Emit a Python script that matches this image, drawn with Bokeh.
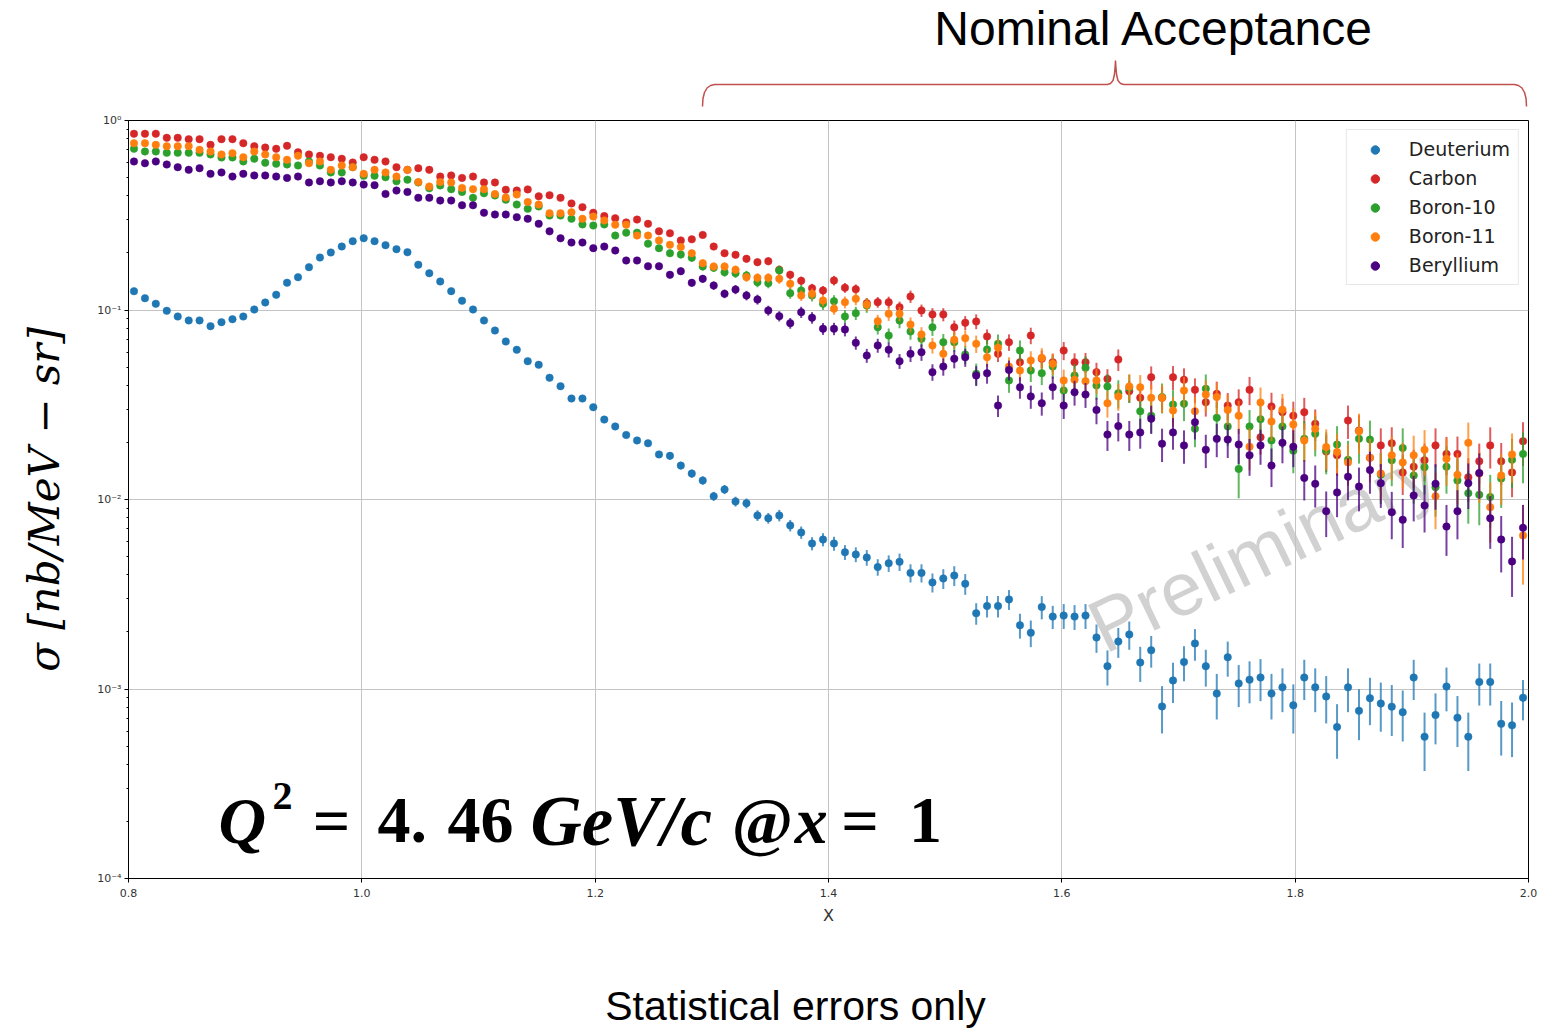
from bokeh.plotting import figure
from bokeh.models import (Range1d, FixedTicker, CustomJSTickFormatter, Label,
                          Legend, LegendItem)
from bokeh.layouts import column
from bokeh.embed import file_html
from bokeh.resources import INLINE
from bokeh.core.properties import value

# ---------------- data ----------------
x_vals = [
    0.8047, 0.8141, 0.8234, 0.8328, 0.8422, 0.8516, 0.8609, 0.8703, 0.8797, 0.8891, 0.8984, 0.9078, 0.9172, 0.9266, 0.9359, 0.9453,
    0.9547, 0.9641, 0.9734, 0.9828, 0.9922, 1.0016, 1.0109, 1.0203, 1.0297, 1.0391, 1.0484, 1.0578, 1.0672, 1.0766, 1.0859, 1.0953,
    1.1047, 1.1141, 1.1234, 1.1328, 1.1422, 1.1516, 1.1609, 1.1703, 1.1797, 1.1891, 1.1984, 1.2078, 1.2172, 1.2266, 1.2359, 1.2453,
    1.2547, 1.2641, 1.2734, 1.2828, 1.2922, 1.3016, 1.3109, 1.3203, 1.3297, 1.3391, 1.3484, 1.3578, 1.3672, 1.3766, 1.3859, 1.3953,
    1.4047, 1.4141, 1.4234, 1.4328, 1.4422, 1.4516, 1.4609, 1.4703, 1.4797, 1.4891, 1.4984, 1.5078, 1.5172, 1.5266, 1.5359, 1.5453,
    1.5547, 1.5641, 1.5734, 1.5828, 1.5922, 1.6016, 1.6109, 1.6203, 1.6297, 1.6391, 1.6484, 1.6578, 1.6672, 1.6766, 1.6859, 1.6953,
    1.7047, 1.7141, 1.7234, 1.7328, 1.7422, 1.7516, 1.7609, 1.7703, 1.7797, 1.7891, 1.7984, 1.8078, 1.8172, 1.8266, 1.8359, 1.8453,
    1.8547, 1.8641, 1.8734, 1.8828, 1.8922, 1.9016, 1.9109, 1.9203, 1.9297, 1.9391, 1.9484, 1.9578, 1.9672, 1.9766, 1.9859, 1.9953,
]

deuterium = [
    0.1257, 0.1154, 0.1078, 0.0990, 0.0924, 0.0881, 0.0881, 0.0822, 0.0862, 0.0894, 0.0924, 0.1006, 0.1096, 0.1202, 0.1393, 0.1490,
    0.1683, 0.1892, 0.2011, 0.2164, 0.2308, 0.2393, 0.2308, 0.2198, 0.2094, 0.2018, 0.1733, 0.1563, 0.1414, 0.1257, 0.1119, 0.1006,
    0.0881, 0.0779, 0.0682, 0.0617, 0.0537, 0.0514, 0.0439, 0.0396, 0.0341, 0.0341, 0.0307, 0.0264, 0.0243, 0.0219, 0.0205, 0.0198,
    0.0173, 0.0170, 0.0151, 0.0137, 0.0126, 0.0104, 0.0113, 0.00976, 0.00955, 0.00824, 0.00797, 0.00824, 0.00729, 0.00670, 0.00586, 0.00615,
    0.00586, 0.00527, 0.00513, 0.00494, 0.00440, 0.00461, 0.00469, 0.00410, 0.00410, 0.00365, 0.00383, 0.00397, 0.00359, 0.00251, 0.00274, 0.00274,
    0.00297, 0.00217, 0.00198, 0.00271, 0.00241, 0.00244, 0.00241, 0.00244, 0.00187, 0.00132, 0.00178, 0.00194, 0.00138, 0.00160, 0.000809, 0.00111,
    0.00139, 0.00174, 0.00132, 0.000946, 0.00147, 0.00107, 0.00112, 0.00115, 0.000946, 0.00102, 0.000820, 0.00115, 0.00102, 0.000914, 0.000630, 0.00102,
    0.000767, 0.000895, 0.000838, 0.000807, 0.000755, 0.00115, 0.000560, 0.000729, 0.00103, 0.000706, 0.000560, 0.00109, 0.00109, 0.000655, 0.000643, 0.000899,
]
deuterium_relerr = [
    0.01, 0.01, 0.01, 0.01, 0.01, 0.01, 0.01, 0.01, 0.01, 0.01, 0.01, 0.01, 0.01, 0.01, 0.01, 0.01,
    0.012, 0.012, 0.012, 0.012, 0.012, 0.012, 0.012, 0.012, 0.012, 0.012, 0.012, 0.012, 0.012, 0.012, 0.012, 0.012,
    0.015, 0.015, 0.02, 0.02, 0.02, 0.02, 0.025, 0.025, 0.025, 0.03, 0.03, 0.03, 0.035, 0.035, 0.04, 0.04,
    0.04, 0.045, 0.045, 0.05, 0.05, 0.055, 0.055, 0.06, 0.06, 0.065, 0.065, 0.07, 0.07, 0.075, 0.08, 0.08,
    0.085, 0.09, 0.09, 0.095, 0.10, 0.10, 0.105, 0.11, 0.11, 0.115, 0.12, 0.12, 0.125, 0.13, 0.13, 0.13,
    0.12, 0.15, 0.16, 0.14, 0.14, 0.15, 0.15, 0.15, 0.17, 0.21, 0.18, 0.17, 0.21, 0.19, 0.28, 0.24,
    0.21, 0.19, 0.22, 0.27, 0.21, 0.25, 0.25, 0.25, 0.27, 0.26, 0.29, 0.24, 0.26, 0.28, 0.32, 0.26,
    0.30, 0.28, 0.29, 0.30, 0.30, 0.24, 0.34, 0.30, 0.26, 0.30, 0.34, 0.25, 0.25, 0.32, 0.32, 0.24,
]

carbon = [
    0.851, 0.851, 0.851, 0.810, 0.810, 0.797, 0.797, 0.744, 0.797, 0.797, 0.759, 0.732, 0.720, 0.709, 0.735, 0.680,
    0.662, 0.651, 0.640, 0.628, 0.600, 0.640, 0.620, 0.608, 0.567, 0.549, 0.560, 0.549, 0.506, 0.513, 0.498, 0.506,
    0.471, 0.471, 0.431, 0.427, 0.433, 0.398, 0.403, 0.391, 0.365, 0.349, 0.326, 0.313, 0.305, 0.290, 0.300, 0.285,
    0.260, 0.254, 0.233, 0.236, 0.249, 0.216, 0.1993, 0.1955, 0.1863, 0.1788, 0.1810, 0.1630, 0.1534, 0.1426, 0.1303, 0.1268,
    0.1431, 0.1310, 0.1287, 0.1086, 0.1099, 0.1099, 0.1035, 0.1178, 0.0994, 0.0947, 0.0947, 0.0811, 0.0856, 0.0870, 0.0725, 0.0587,
    0.0676, 0.0530, 0.0733, 0.0553, 0.0530, 0.0611, 0.0530, 0.0530, 0.0470, 0.0433, 0.0548, 0.0373, 0.0344, 0.0442, 0.0344, 0.0442,
    0.0428, 0.0379, 0.0326, 0.0361, 0.0313, 0.0326, 0.0379, 0.0213, 0.0310, 0.0289, 0.0277, 0.0289, 0.0251, 0.0179, 0.0171, 0.0261,
    0.0231, 0.0166, 0.0193, 0.0198, 0.0139, 0.0149, 0.0161, 0.0193, 0.0174, 0.0174, 0.0131, 0.0159, 0.0193, 0.0159, 0.0139, 0.0203,
]
carbon_relerr = [
    0.01, 0.01, 0.01, 0.01, 0.01, 0.01, 0.01, 0.01, 0.01, 0.01, 0.01, 0.01, 0.01, 0.01, 0.01, 0.01,
    0.01, 0.01, 0.01, 0.01, 0.01, 0.01, 0.01, 0.01, 0.01, 0.01, 0.01, 0.01, 0.01, 0.01, 0.01, 0.01,
    0.012, 0.012, 0.015, 0.015, 0.015, 0.018, 0.018, 0.02, 0.02, 0.022, 0.022, 0.025, 0.025, 0.028, 0.028, 0.03,
    0.03, 0.032, 0.035, 0.035, 0.038, 0.04, 0.04, 0.042, 0.045, 0.045, 0.048, 0.05, 0.05, 0.052, 0.055, 0.055,
    0.058, 0.06, 0.06, 0.065, 0.065, 0.07, 0.07, 0.075, 0.075, 0.08, 0.08, 0.085, 0.085, 0.09, 0.09, 0.095,
    0.10, 0.10, 0.10, 0.105, 0.11, 0.11, 0.115, 0.12, 0.12, 0.125, 0.13, 0.13, 0.135, 0.14, 0.14, 0.145,
    0.15, 0.15, 0.16, 0.16, 0.165, 0.17, 0.17, 0.19, 0.18, 0.18, 0.185, 0.19, 0.19, 0.22, 0.22, 0.20,
    0.205, 0.21, 0.23, 0.215, 0.24, 0.23, 0.225, 0.23, 0.23, 0.235, 0.26, 0.24, 0.245, 0.25, 0.26, 0.26,
]

boron10 = [
    0.709, 0.686, 0.686, 0.675, 0.675, 0.675, 0.675, 0.662, 0.638, 0.638, 0.608, 0.628, 0.598, 0.591, 0.586, 0.579,
    0.608, 0.579, 0.532, 0.532, 0.567, 0.511, 0.511, 0.502, 0.478, 0.487, 0.471, 0.439, 0.454, 0.434, 0.420, 0.391,
    0.413, 0.402, 0.382, 0.360, 0.342, 0.352, 0.315, 0.315, 0.303, 0.283, 0.279, 0.283, 0.247, 0.256, 0.256, 0.224,
    0.212, 0.1993, 0.1963, 0.1886, 0.1697, 0.1670, 0.1583, 0.1564, 0.1521, 0.1402, 0.1385, 0.1616, 0.1227, 0.1268, 0.1193, 0.1078,
    0.1113, 0.0924, 0.0962, 0.1056, 0.0811, 0.0733, 0.0880, 0.0770, 0.0705, 0.0811, 0.0676, 0.0676, 0.0582, 0.0461, 0.0619, 0.0663,
    0.0425, 0.0611, 0.0479, 0.0464, 0.0503, 0.0376, 0.0451, 0.0495, 0.0400, 0.0395, 0.0364, 0.0389, 0.0292, 0.0277, 0.0347, 0.0317,
    0.0320, 0.0236, 0.0384, 0.0270, 0.0243, 0.0145, 0.0243, 0.0265, 0.0205, 0.0243, 0.0181, 0.0209, 0.0222, 0.0181, 0.0195, 0.0162,
    0.0209, 0.0207, 0.0135, 0.0161, 0.0187, 0.0134, 0.0148, 0.0116, 0.0149, 0.0126, 0.0108, 0.0106, 0.0103, 0.0129, 0.0162, 0.0174,
]
boron10_relerr = [
    0.01, 0.01, 0.01, 0.01, 0.01, 0.01, 0.01, 0.01, 0.01, 0.01, 0.01, 0.01, 0.01, 0.01, 0.01, 0.01,
    0.01, 0.01, 0.01, 0.01, 0.01, 0.01, 0.01, 0.01, 0.01, 0.01, 0.01, 0.01, 0.01, 0.01, 0.01, 0.01,
    0.015, 0.015, 0.018, 0.018, 0.02, 0.022, 0.022, 0.025, 0.025, 0.028, 0.028, 0.03, 0.032, 0.035, 0.035, 0.038,
    0.04, 0.042, 0.045, 0.045, 0.048, 0.05, 0.052, 0.055, 0.058, 0.06, 0.06, 0.062, 0.065, 0.068, 0.07, 0.072,
    0.075, 0.08, 0.08, 0.085, 0.085, 0.09, 0.09, 0.095, 0.10, 0.10, 0.105, 0.11, 0.11, 0.13, 0.12, 0.12,
    0.14, 0.13, 0.13, 0.135, 0.14, 0.15, 0.15, 0.15, 0.16, 0.16, 0.17, 0.17, 0.19, 0.19, 0.18, 0.19,
    0.19, 0.20, 0.19, 0.20, 0.21, 0.30, 0.22, 0.22, 0.23, 0.23, 0.24, 0.24, 0.24, 0.25, 0.25, 0.26,
    0.26, 0.26, 0.30, 0.27, 0.27, 0.29, 0.28, 0.30, 0.28, 0.30, 0.31, 0.31, 0.31, 0.30, 0.29, 0.30,
]

boron11 = [
    0.759, 0.759, 0.744, 0.732, 0.732, 0.732, 0.700, 0.686, 0.662, 0.672, 0.640, 0.686, 0.662, 0.640, 0.620, 0.651,
    0.595, 0.608, 0.549, 0.579, 0.567, 0.523, 0.549, 0.532, 0.506, 0.549, 0.473, 0.448, 0.473, 0.471, 0.441, 0.434,
    0.434, 0.409, 0.392, 0.407, 0.371, 0.360, 0.324, 0.324, 0.328, 0.303, 0.311, 0.297, 0.282, 0.282, 0.247, 0.247,
    0.233, 0.221, 0.215, 0.1993, 0.1766, 0.1697, 0.1697, 0.1630, 0.1490, 0.1479, 0.1479, 0.1461, 0.1375, 0.1193, 0.1218, 0.1122,
    0.1015, 0.1099, 0.1146, 0.1069, 0.0873, 0.0955, 0.0955, 0.0838, 0.0743, 0.0650, 0.0587, 0.0696, 0.0710, 0.0663, 0.0563, 0.0632,
    0.0503, 0.0479, 0.0541, 0.0559, 0.0520, 0.0425, 0.0428, 0.0421, 0.0425, 0.0322, 0.0350, 0.0395, 0.0391, 0.0344, 0.0344, 0.0295,
    0.0376, 0.0292, 0.0358, 0.0347, 0.0297, 0.0277, 0.0190, 0.0325, 0.0258, 0.0298, 0.0249, 0.0205, 0.0236, 0.0189, 0.0178, 0.0157,
    0.0229, 0.0166, 0.0137, 0.0171, 0.0157, 0.0171, 0.0183, 0.0104, 0.0164, 0.0135, 0.0199, 0.0137, 0.00911, 0.0134, 0.0173, 0.00646,
]
boron11_relerr = [
    0.01, 0.01, 0.01, 0.01, 0.01, 0.01, 0.01, 0.01, 0.01, 0.01, 0.01, 0.01, 0.01, 0.01, 0.01, 0.01,
    0.01, 0.01, 0.01, 0.01, 0.01, 0.01, 0.01, 0.01, 0.01, 0.01, 0.01, 0.01, 0.01, 0.01, 0.01, 0.01,
    0.014, 0.014, 0.016, 0.018, 0.02, 0.02, 0.022, 0.024, 0.025, 0.027, 0.028, 0.03, 0.031, 0.033, 0.035, 0.037,
    0.038, 0.04, 0.042, 0.044, 0.046, 0.048, 0.05, 0.052, 0.054, 0.056, 0.058, 0.06, 0.062, 0.064, 0.066, 0.068,
    0.07, 0.072, 0.075, 0.078, 0.08, 0.083, 0.086, 0.09, 0.092, 0.095, 0.10, 0.10, 0.10, 0.105, 0.11, 0.11,
    0.12, 0.12, 0.12, 0.125, 0.13, 0.14, 0.14, 0.14, 0.15, 0.16, 0.16, 0.16, 0.16, 0.17, 0.17, 0.18,
    0.18, 0.19, 0.19, 0.19, 0.20, 0.20, 0.25, 0.20, 0.21, 0.21, 0.22, 0.23, 0.23, 0.24, 0.25, 0.25,
    0.24, 0.26, 0.28, 0.26, 0.27, 0.27, 0.27, 0.33, 0.28, 0.30, 0.28, 0.30, 0.35, 0.30, 0.29, 0.45,
]

beryllium = [
    0.608, 0.595, 0.608, 0.586, 0.567, 0.549, 0.560, 0.523, 0.532, 0.506, 0.523, 0.513, 0.513, 0.506, 0.498, 0.506,
    0.471, 0.478, 0.471, 0.478, 0.471, 0.459, 0.456, 0.410, 0.427, 0.420, 0.391, 0.391, 0.378, 0.378, 0.357, 0.357,
    0.326, 0.319, 0.319, 0.309, 0.303, 0.285, 0.260, 0.239, 0.227, 0.227, 0.212, 0.216, 0.206, 0.1825, 0.1825, 0.1702,
    0.1702, 0.1534, 0.1602, 0.1391, 0.1461, 0.1346, 0.1218, 0.1283, 0.1193, 0.1136, 0.0994, 0.0928, 0.0852, 0.0974, 0.0910, 0.0796,
    0.0796, 0.0789, 0.0671, 0.0575, 0.0650, 0.0617, 0.0537, 0.0587, 0.0599, 0.0470, 0.0503, 0.0553, 0.0563, 0.0451, 0.0464, 0.0313,
    0.0483, 0.0391, 0.0350, 0.0322, 0.0391, 0.0313, 0.0368, 0.0358, 0.0297, 0.0220, 0.0244, 0.0220, 0.0226, 0.0267, 0.0197, 0.0226,
    0.0193, 0.0256, 0.0183, 0.0209, 0.0207, 0.0195, 0.0171, 0.0193, 0.0151, 0.0199, 0.0190, 0.0130, 0.0121, 0.00868, 0.0109, 0.0132,
    0.0117, 0.0143, 0.0122, 0.00857, 0.00781, 0.0105, 0.00930, 0.0121, 0.00720, 0.00868, 0.0122, 0.0138, 0.00796, 0.00615, 0.00471, 0.00709,
]
beryllium_relerr = [
    0.01, 0.01, 0.01, 0.01, 0.01, 0.01, 0.01, 0.01, 0.01, 0.01, 0.01, 0.01, 0.01, 0.01, 0.01, 0.01,
    0.01, 0.01, 0.01, 0.01, 0.01, 0.01, 0.01, 0.01, 0.01, 0.01, 0.01, 0.01, 0.01, 0.01, 0.01, 0.01,
    0.015, 0.015, 0.018, 0.018, 0.02, 0.022, 0.022, 0.025, 0.025, 0.028, 0.028, 0.03, 0.032, 0.035, 0.035, 0.038,
    0.04, 0.042, 0.045, 0.045, 0.048, 0.05, 0.052, 0.055, 0.058, 0.06, 0.06, 0.062, 0.065, 0.068, 0.07, 0.072,
    0.075, 0.08, 0.08, 0.085, 0.085, 0.09, 0.09, 0.095, 0.10, 0.10, 0.105, 0.11, 0.11, 0.12, 0.12, 0.13,
    0.12, 0.13, 0.14, 0.14, 0.14, 0.15, 0.15, 0.15, 0.16, 0.18, 0.17, 0.18, 0.18, 0.17, 0.20, 0.19,
    0.20, 0.19, 0.20, 0.20, 0.20, 0.21, 0.22, 0.21, 0.23, 0.22, 0.22, 0.24, 0.25, 0.27, 0.26, 0.25,
    0.26, 0.25, 0.26, 0.28, 0.29, 0.27, 0.28, 0.27, 0.30, 0.29, 0.27, 0.27, 0.31, 0.33, 0.35, 0.32,
]

series_names = ["Deuterium", "Carbon", "Boron-10", "Boron-11", "Beryllium"]
series_values = [deuterium, carbon, boron10, boron11, beryllium]
series_relerr = [deuterium_relerr, carbon_relerr, boron10_relerr, boron11_relerr, beryllium_relerr]
series_colors = ["#1f77b4", "#d62728", "#2ca02c", "#ff7f0e", "#4b0082"]

x_ticks = [0.8, 1.0, 1.2, 1.4, 1.6, 1.8, 2.0]
y_ticks = [1e-4, 1e-3, 1e-2, 1e-1, 1.0]

W = 1545
TOP_H = 112
MAIN_H = 838
BOT_H = 80

x_range = Range1d(0.8, 2.0)


def strip(height):
    f = figure(width=W, height=height, x_range=x_range, y_range=Range1d(height, 0),
               toolbar_location=None, output_backend="svg",
               min_border_left=128, min_border_right=17, min_border_top=0, min_border_bottom=0,
               x_axis_location=None, y_axis_location=None)
    f.grid.visible = False
    f.outline_line_color = None
    f.background_fill_color = "white"
    f.border_fill_color = "white"
    return f


# ---------------- top strip: "Nominal Acceptance" with brace ----------------
top = strip(TOP_H)
brace_x = [1.2920, 1.2924, 1.2937, 1.2959, 1.2989, 1.3023, 1.6391, 1.6417, 1.6439, 1.6451, 1.6457, 1.6460,
           1.6463, 1.6469, 1.6481, 1.6503, 1.6529, 1.9880, 1.9914, 1.9944, 1.9966, 1.9979, 1.9983]
brace_y = [106, 98, 92, 87.5, 85, 84, 84, 83, 80, 74, 66, 60,
           66, 74, 80, 83, 84, 84, 85, 87.5, 92, 98, 106]
top.line(brace_x, brace_y, line_color="#c0504d", line_width=1.5)
top.text(x=[1.6794], y=[28], text=["Nominal Acceptance"], text_font=value("Liberation Sans"),
         text_font_size="48px", text_align="center", text_baseline="middle", text_color="black")

# ---------------- bottom strip: caption ----------------
bot = strip(BOT_H)
bot.text(x=[1.3717], y=[55], text=["Statistical errors only"], text_font=value("Liberation Sans"),
         text_font_size="41px", text_align="center", text_baseline="middle", text_color="black")

# ---------------- main plot ----------------
p = figure(width=W, height=MAIN_H, x_range=x_range, y_range=Range1d(1e-4, 1.0),
           y_axis_type="log", toolbar_location=None, output_backend="svg",
           min_border_left=128, min_border_right=17, min_border_top=8, min_border_bottom=72)
p.background_fill_color = "white"
p.border_fill_color = "white"
p.outline_line_color = "black"
p.outline_line_width = 1

minor = [m * d for d in [1e-4, 1e-3, 1e-2, 1e-1] for m in range(2, 10)]
p.yaxis.ticker = FixedTicker(ticks=y_ticks, minor_ticks=minor)
p.xaxis.ticker = FixedTicker(ticks=x_ticks)
p.yaxis.formatter = CustomJSTickFormatter(code="""
    const sup = {"-": "\u207b", "0": "\u2070", "1": "\u00b9", "2": "\u00b2", "3": "\u00b3", "4": "\u2074"};
    const e = Math.round(Math.log10(tick));
    return "10" + String(e).split("").map(c => sup[c]).join("");
""")
p.xaxis.formatter = CustomJSTickFormatter(code="return tick.toFixed(1);")

for ax in (p.xaxis, p.yaxis):
    ax.axis_line_color = "black"
    ax.major_tick_out = 4
    ax.major_tick_in = 0
    ax.major_tick_line_color = "black"
    ax.major_label_text_font = "DejaVu Sans"
    ax.major_label_text_font_size = "11px"
    ax.major_label_text_color = "#333333"
    ax.major_label_standoff = 3
p.xaxis.major_label_standoff = 6
p.yaxis.minor_tick_out = 2
p.yaxis.minor_tick_in = 0
p.yaxis.minor_tick_line_color = "black"
p.xaxis.minor_tick_out = 0
p.xaxis.minor_tick_in = 0

p.xaxis.axis_label = "X"
p.xaxis.axis_label_text_font = "DejaVu Sans"
p.xaxis.axis_label_text_font_style = "normal"
p.xaxis.axis_label_text_font_size = "16px"
p.xaxis.axis_label_text_color = "#333333"
p.xaxis.axis_label_standoff = 6

p.yaxis.axis_label = "\u03c3 [nb/MeV \u2212 sr]"
p.yaxis.axis_label_text_font = "DejaVu Serif"
p.yaxis.axis_label_text_font_style = "italic"
p.yaxis.axis_label_text_font_size = "42px"
p.yaxis.axis_label_text_color = "black"
p.yaxis.axis_label_standoff = 25

p.xgrid.grid_line_color = "#c4c4c4"
p.ygrid.grid_line_color = "#c4c4c4"
p.xgrid.grid_line_width = 1
p.ygrid.grid_line_width = 1
p.ygrid.minor_grid_line_color = None

# watermark
p.add_layout(Label(x=1.772, y=0.00545, text="Preliminary", angle=0.45, angle_units="rad",
                   text_align="center", text_baseline="middle", text_font="Liberation Sans",
                   text_font_size="75px", text_color="#c2c2c2", text_alpha=0.75, level="underlay"))

legend_items = []
for name, vals, rel, col in zip(series_names, series_values, series_relerr, series_colors):
    lo = [v * (1 - r) for v, r in zip(vals, rel)]
    hi = [v * (1 + r) for v, r in zip(vals, rel)]
    p.segment(x0=x_vals, y0=lo, x1=x_vals, y1=hi, line_color=col, line_width=2, line_alpha=0.75)
    p.scatter(x=x_vals, y=vals, size=7.5, fill_color=col, line_color=col, line_width=0.5)
    # legend swatch (smaller dot, kept outside the visible ranges)
    dummy = p.scatter(x=[0.0], y=[1e-6], size=6, fill_color=col, line_color=col)
    legend_items.append(LegendItem(label=name, renderers=[dummy]))

legend = Legend(items=legend_items, location="top_right")
legend.label_text_font = "DejaVu Sans"
legend.label_text_font_size = "19px"
legend.label_text_color = "#222222"
legend.glyph_width = 40
legend.glyph_height = 21
legend.label_height = 21
legend.spacing = 7
legend.padding = 8
legend.margin = 9
legend.label_standoff = 14
legend.border_line_color = "#d0d0d0"
legend.border_line_width = 1
legend.background_fill_alpha = 0.85
p.add_layout(legend)

# Q^2 annotation, pieced together like the math-typeset original (data units)
q_font = "Liberation Serif"
q_parts = [
    (0.8771, 2.02e-4, "Q", "bold italic", "66px"),
    (0.9235, 2.72e-4, "2", "bold", "40px"),
    (0.9580, 2.02e-4, "=", "bold", "66px"),
    (1.0134, 2.02e-4, "4.", "bold", "66px"),
    (1.0734, 2.02e-4, "46", "bold", "66px"),
    (1.1446, 2.02e-4, "GeV/c", "bold italic", "71px"),
    (1.3170, 2.02e-4, "@", "bold", "66px"),
    (1.3710, 2.02e-4, "x", "bold italic", "66px"),
    (1.4110, 2.02e-4, "=", "bold", "66px"),
    (1.4690, 2.02e-4, "1", "bold", "66px"),
]
for qx, qy, qt, qs, qsz in q_parts:
    p.add_layout(Label(x=qx, y=qy, text=qt, text_font=q_font, text_font_style=qs,
                       text_font_size=qsz, text_color="black", text_baseline="alphabetic"))

layout = column(top, p, bot, spacing=0)
open("out.html", "w").write(file_html(layout, INLINE))
